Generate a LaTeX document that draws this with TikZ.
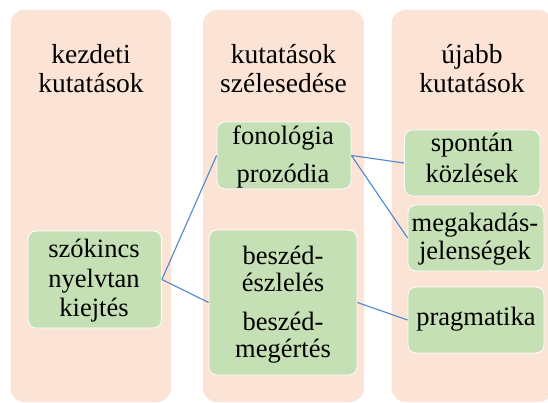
\documentclass[tikz,border=0pt]{standalone}
\usepackage{fontspec}
\setmainfont{Liberation Serif}
\definecolor{peach}{HTML}{FBE3D6}
\definecolor{leaf}{HTML}{C5E0B4}
\definecolor{linkblue}{HTML}{5087CC}
\begin{document}
\begin{tikzpicture}[x=1pt,y=-1pt,
  column/.style={fill=peach, rounded corners=14pt},
  gbox/.style={fill=leaf, draw=white, line width=0.8pt, rounded corners=8pt, inner sep=0pt},
  head/.style={anchor=base, inner sep=0pt, font=\fontsize{27.5}{30}\selectfont},
  item/.style={anchor=base, inner sep=0pt, font=\fontsize{26.5}{29}\selectfont},
  conn/.style={draw=linkblue, line width=1.1pt}]
\useasboundingbox (0,0) rectangle (548,403);
\clip (0,0) rectangle (548,403);
\fill[white] (0,0) rectangle (548,403);
% columns
\fill[column] (10.5,10) rectangle (171,402);
\fill[column] (203,10) rectangle (364,402);
\fill[column] (391.5,10) rectangle (553,402);
% headers
\node[head] (h1a) at (91,64) {kezdeti};
\node[head] (h1b) at (91,93) {kutatások};
\node[head] (h2a) at (283.5,64) {kutatások};
\node[head] (h2b) at (283.5,93) {szélesedése};
\node[head] (h3a) at (472,64) {újabb};
\node[head] (h3b) at (472,93) {kutatások};
% boxes
\node[gbox, minimum width=133.5pt, minimum height=97pt] (sz) at (94.75,279.5) {};
\node[gbox, minimum width=134pt, minimum height=67pt] (fon) at (284,155.5) {};
\node[gbox, minimum width=148pt, minimum height=145pt] (bes) at (283,302.5) {};
\node[gbox, minimum width=135.5pt, minimum height=66pt] (spo) at (472.25,163) {};
\node[gbox, minimum width=136pt, minimum height=66pt] (meg) at (476,238) {};
\node[gbox, minimum width=136pt, minimum height=66pt] (pra) at (476,320) {};
% box texts
\node[item] (sz1) at (94,257) {szókincs};
\node[item] (sz2) at (94,287) {nyelvtan};
\node[item] (sz3) at (94,316) {kiejtés};
\node[item] (fon1) at (283,145) {fonológia};
\node[item] (fon2) at (283,183) {prozódia};
\node[item] (bes1) at (283,264) {beszéd-};
\node[item] (bes2) at (283,291) {észlelés};
\node[item] (bes3) at (283,330) {beszéd-};
\node[item] (bes4) at (283,357) {megértés};
\node[item] (spo1) at (472,152) {spontán};
\node[item] (spo2) at (472,183) {közlések};
\node[item] (meg1) at (475,231) {megakadás-};
\node[item] (meg2) at (475,259) {jelenségek};
\node[item] (pra1) at (476,325) {pragmatika};
% connectors
\draw[conn] (sz.east) -- (fon.west);
\draw[conn] (sz.east) -- (bes.west);
\draw[conn] (fon.east) -- (spo.west);
\draw[conn] (fon.east) -- (meg.west);
\draw[conn] (bes.east) -- (pra.west);
\end{tikzpicture}
\end{document}
